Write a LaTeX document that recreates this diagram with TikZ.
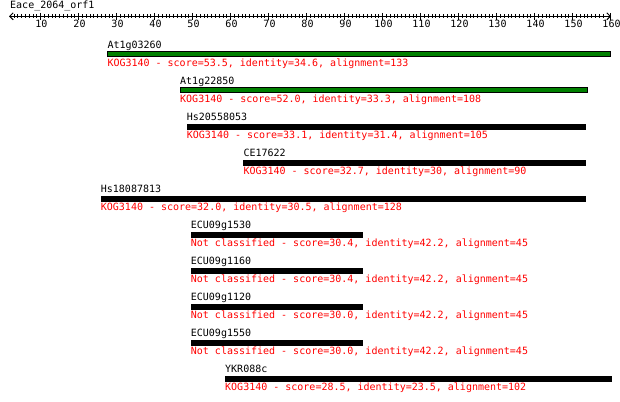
\documentclass[tikz,border=0pt]{standalone}
\usepackage{fontspec}
\setmonofont{DejaVu Sans Mono}
\usepackage{tikz}
\usetikzlibrary{arrows.meta,positioning}

\begin{document}
\begin{tikzpicture}[
  x=1pt,y=-1pt,
  font=\ttfamily\fontsize{10}{12}\selectfont,
  lbl/.style={inner sep=0pt,anchor=base west},
  hitname/.style={lbl,text=black},
  hitinfo/.style={lbl,text=red},
  hitg/.style={draw=black,line width=1pt,fill=green!50!black},
  hitk/.style={fill=black},
  tick/.style={line width=1pt},
]
\useasboundingbox (0,0) rectangle (620,401);
% query ruler
\node[lbl] (title) at (10,8.5) {Eace\_2064\_orf1};
\coordinate (rl) at (9,16.3);
\coordinate (rr) at (611,16.3);
\draw[line width=1pt,{Straight Barb[length=3.5pt,width=7pt]}-{Straight Barb[length=3.5pt,width=7pt]}] (rl) -- (rr);
\foreach \p in {3,...,158}
  \draw[tick] ({2.7+3.8*\p},14.3) -- ({2.7+3.8*\p},18.3);
\foreach \p in {10,20,...,160}{
  \draw[tick] ({2.7+3.8*\p},12.8) -- ({2.7+3.8*\p},20);
  \node[inner sep=0pt,anchor=base] (t\p) at ({3.5+3.8*\p},28) {\p};
}
% hits
\foreach \nm/\xa/\xb/\kog/\sc/\idn/\aln/\bs [count=\i] in {
  At1g03260/107.3/610.7/KOG3140/53.5/34.6/133/hitg,
  At1g22850/180/587.7/KOG3140/52.0/33.3/108/hitg,
  Hs20558053/186.7/585/KOG3140/33.1/31.4/105/hitk,
  CE17622/243.3/585/KOG3140/32.7/30/90/hitk,
  Hs18087813/100.7/585/KOG3140/32.0/30.5/128/hitk,
  ECU09g1530/190.7/362/Not classified/30.4/42.2/45/hitk,
  ECU09g1160/190.7/362/Not classified/30.4/42.2/45/hitk,
  ECU09g1120/190.7/362/Not classified/30.0/42.2/45/hitk,
  ECU09g1550/190.7/362/Not classified/30.0/42.2/45/hitk,
  YKR088c/225/610.7/KOG3140/28.5/23.5/102/hitk}
{
  \pgfmathsetmacro\yt{52+36*(\i-1)}
  \draw[\bs] (\xa,\yt) rectangle (\xb,\yt+5);
  \node[hitname] (n\i) at (\xa,\yt-3.2) {\nm};
  \node[hitinfo] (h\i) at (\xa,\yt+14.3) {\kog{} - score=\sc, identity=\idn, alignment=\aln};
}
\end{tikzpicture}
\end{document}
